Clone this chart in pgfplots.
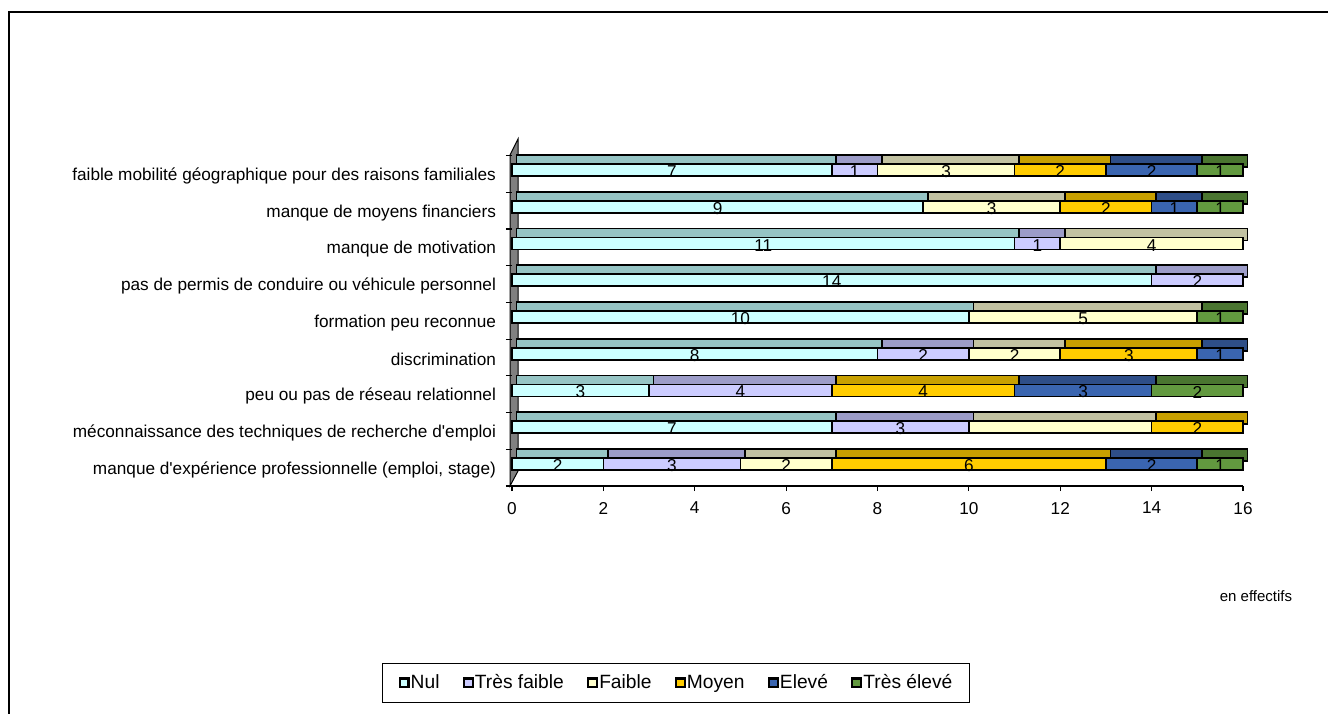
\documentclass[border=0pt]{standalone}
\usepackage{pgfplots}
\pgfplotsset{compat=1.18}
\usepackage{pgfplotstable}
\usepackage{fontspec}
\setmainfont{Liberation Sans}
\definecolor{cNul}{HTML}{CCFFFF}
\definecolor{cNulD}{HTML}{96C4C4}
\definecolor{cTF}{HTML}{CCCCFF}
\definecolor{cTFD}{HTML}{9C9CC8}
\definecolor{cF}{HTML}{FFFFCC}
\definecolor{cFD}{HTML}{C2C2A2}
\definecolor{cM}{HTML}{FFCC00}
\definecolor{cMD}{HTML}{C8A000}
\definecolor{cE}{HTML}{3A65B0}
\definecolor{cED}{HTML}{2E4E88}
\definecolor{cTE}{HTML}{62993F}
\definecolor{cTED}{HTML}{4A7530}

\pgfplotstableread{
y nul tf f m e te fl
1 2 3 2 6 2 1 2
2 7 3 4 2 0 0 0
3 3 4 0 4 3 2 0
4 8 2 2 3 1 0 2
5 10 0 5 0 0 1 5
6 14 2 0 0 0 0 0
7 11 1 4 0 0 0 4
8 9 0 3 2 1 1 3
9 7 1 3 2 2 1 3
}\data

\newcommand\lblfont{\fontsize{8.6}{10}\selectfont}
\newcommand\legfont{\fontsize{9.6}{11}\selectfont}

\pgfplotsset{
  base/.style={
    scale only axis, width=365.5pt, height=165.25pt,
    xmin=0, xmax=16, ymin=0.5, ymax=9.5,
    xbar stacked, bar width=6pt, bar shift=1.9pt,
    anchor=south west, enlargelimits=false, clip=false,
  },
  seg/.style={fill=#1, draw=black, line width=0.85pt,
    legend image code/.code={\draw[fill=#1, draw=black, line width=1.1pt] (0.3pt,-2.2pt) rectangle (4.7pt,2.2pt);}},
  lbl/.style={
    point meta=\thisrow{#1},
    nodes near coords={\pgfmathfloatifflags{\pgfplotspointmeta}{0}{}{\pgfmathprintnumber{\pgfplotspointmeta}}},
    every node near coord/.append style={anchor=center, font=\lblfont, text=black, yshift=-0.8pt},
  },
}

\begin{document}
\begin{tikzpicture}
\useasboundingbox (0,0) rectangle (664pt,356.5pt);
% outer frame
\draw[line width=1pt] (4.5pt,-5pt) -- (4.5pt,350.5pt) -- (670pt,350.5pt);
% side wall
\filldraw[fill=gray, draw=black, line width=0.5pt] (255pt,113.5pt) -- (255pt,279pt) -- (259pt,287pt) -- (259pt,121pt) -- cycle;

% back (top faces)
\begin{axis}[base, at={(258.25pt,118pt)}, hide axis]
\addplot[seg=cNulD] table[x=nul,y=y] {\data};
\addplot[seg=cTFD] table[x=tf,y=y] {\data};
\addplot[seg=cFD] table[x=f,y=y] {\data};
\addplot[seg=cMD] table[x=m,y=y] {\data};
\addplot[seg=cED] table[x=e,y=y] {\data};
\addplot[seg=cTED] table[x=te,y=y] {\data};
\end{axis}

% front faces
\begin{axis}[base, at={(256pt,113.5pt)},
  axis lines*=left,
  axis line style={-, line width=0.6pt},
  y axis line style={draw=none},
  tick align=outside,
  xtick={0,2,...,16},
  major tick length=2.5pt,
  minor tick length=3pt,
  ytick={1,...,9},
  minor ytick={0.5,1.5,...,9.5},
  major y tick style={draw=none},
  tick style={black, line width=0.6pt},
  /pgf/number format/assume math mode=true,
  tick label style={font=\lblfont},
  xticklabel style={yshift=-2pt},
  yticklabel style={xshift=-2pt, yshift=-1pt},
  yticklabels={
    {manque d\textquotesingle expérience professionnelle (emploi, stage)},
    {méconnaissance des techniques de recherche d\textquotesingle emploi},
    {peu ou pas de réseau relationnel},
    {discrimination},
    {formation peu reconnue},
    {pas de permis de conduire ou véhicule personnel},
    {manque de motivation},
    {manque de moyens financiers},
    {faible mobilité géographique pour des raisons familiales}},
  legend columns=-1,
  legend style={at={(0.2244,-0.596)}, anchor=center, draw=black, line width=0.6pt,
    font=\legfont, inner xsep=8pt, inner ysep=3.5pt,
    nodes={inner xsep=0.6pt},
    /tikz/every odd column/.append style={column sep=0pt},
    /tikz/every even column/.append style={column sep=11pt}},
  legend cell align=left,
]
\addplot[seg=cNul, lbl=nul] table[x=nul,y=y] {\data};
\addplot[seg=cTF, lbl=tf] table[x=tf,y=y] {\data};
\addplot[seg=cF, lbl=fl] table[x=f,y=y] {\data};
\addplot[seg=cM, lbl=m] table[x=m,y=y] {\data};
\addplot[seg=cE, lbl=e] table[x=e,y=y] {\data};
\addplot[seg=cTE, lbl=te] table[x=te,y=y] {\data};
\legend{Nul,Très faible,Faible,Moyen,Elevé,Très élevé}
\end{axis}

\node[font=\fontsize{7.5}{9}\selectfont] at (628pt,58.5pt) {en effectifs};
\end{tikzpicture}
\end{document}
